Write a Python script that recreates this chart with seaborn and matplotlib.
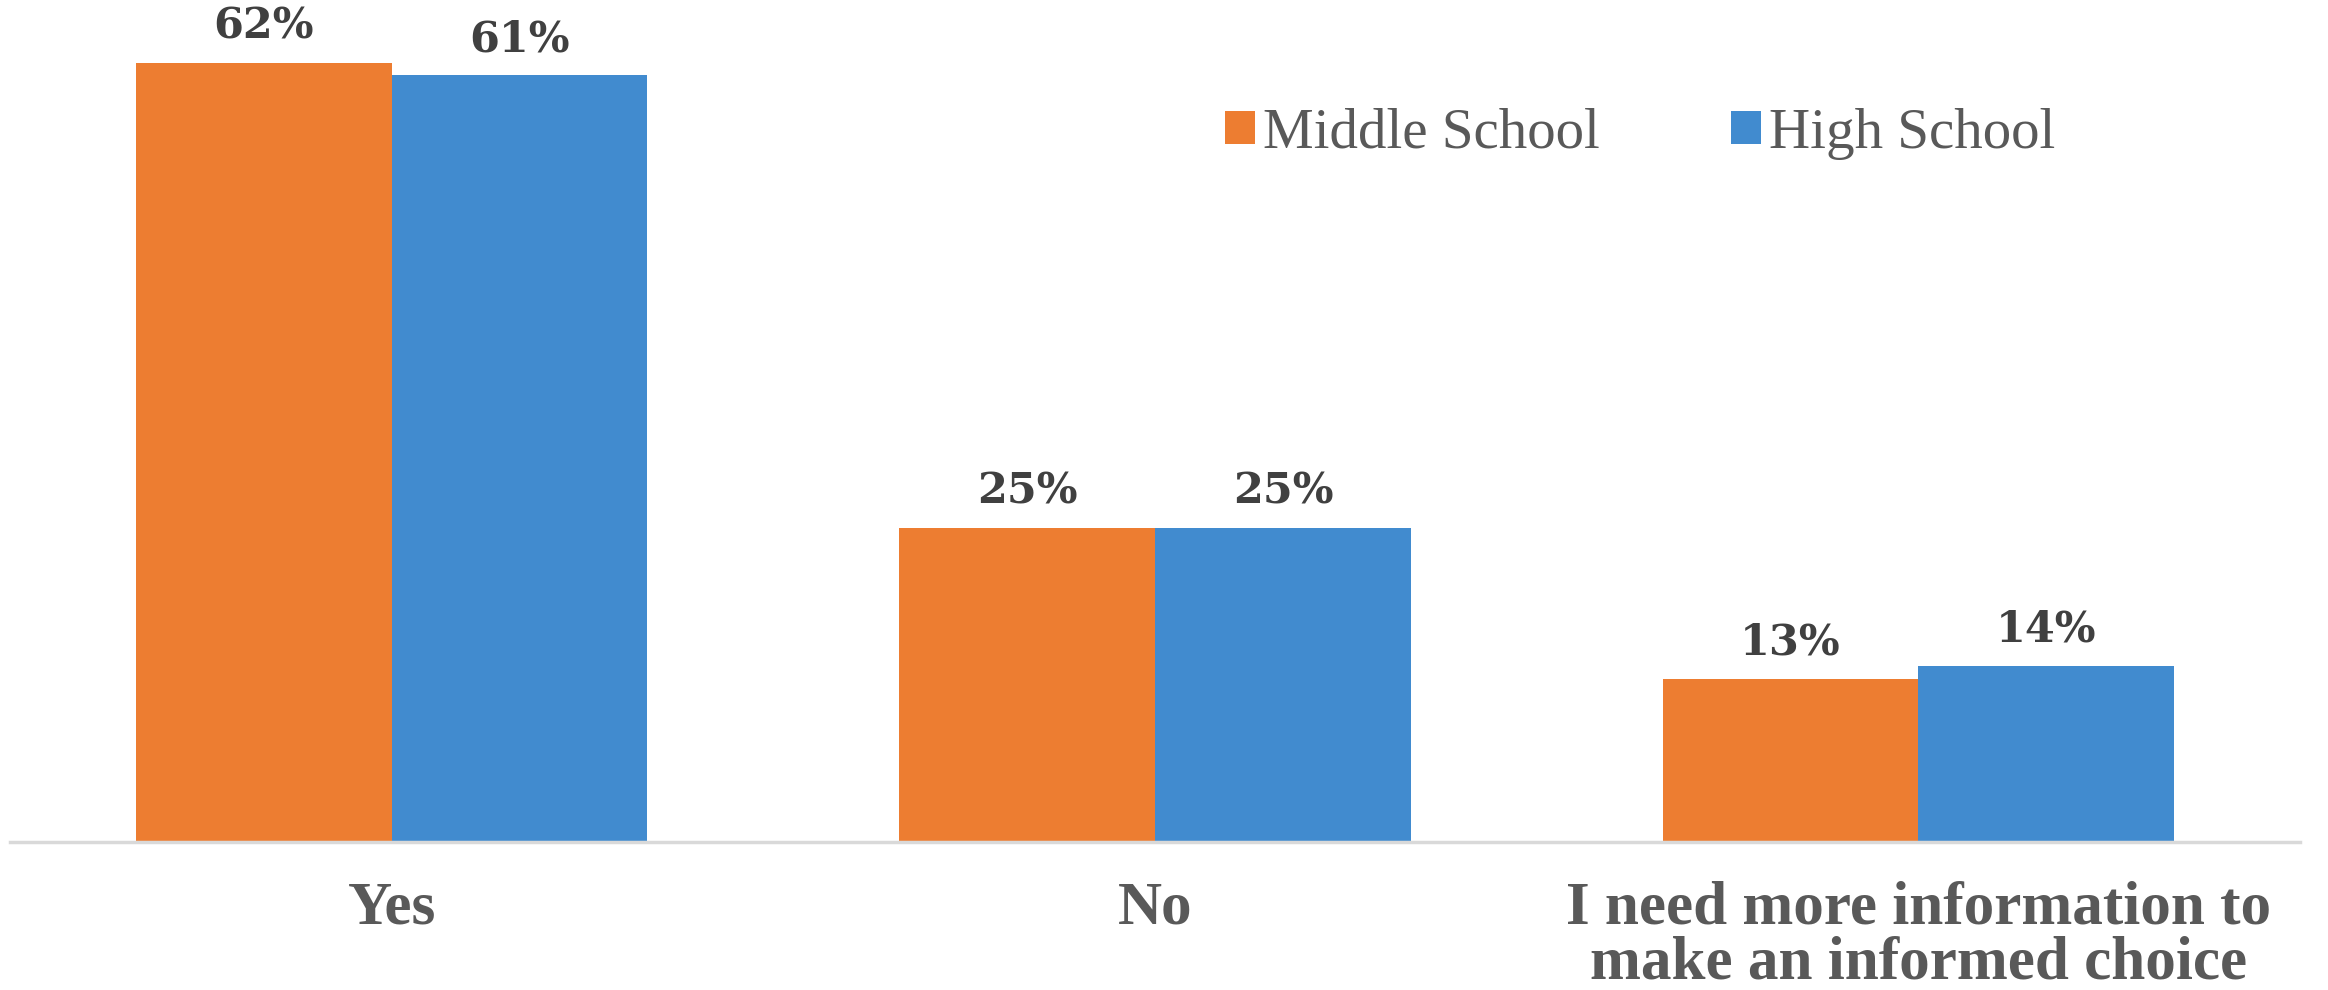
import matplotlib
matplotlib.use("Agg")
import matplotlib.pyplot as plt
import seaborn as sns
import pandas as pd

categories = ["Yes", "No", "I need more information to\nmake an informed choice"]
groups = ["Middle School", "High School"]
middle_school = [62, 25, 13]
high_school = [61, 25, 14]
colors = ["#ED7D31", "#418BCF"]

df = pd.DataFrame({
    "answer": categories * 2,
    "group": [groups[0]] * 3 + [groups[1]] * 3,
    "pct": middle_school + high_school,
})

sns.set_theme(style="white")
plt.rcParams["font.family"] = ["Liberation Serif", "DejaVu Serif"]

fig = plt.figure(figsize=(23.28, 9.9), dpi=100)
ax = fig.add_axes([0.0043, 0.1495, 0.9837, 0.8505])

sns.barplot(data=df, x="answer", y="pct", hue="group", order=categories,
            hue_order=groups, palette=colors, width=0.67, gap=0,
            saturation=1, edgecolor="none", linewidth=0, ax=ax)

ax.set_xlim(-0.5, 2.5)
ax.set_ylim(0, 67)

for container in ax.containers:
    labels = [f"{v:.0f}%" for v in container.datavalues]
    ax.bar_label(container, labels=labels, padding=11, fontsize=31,
                 fontweight="bold", color="#404040",
                 family=["DejaVu Serif"])

ax.set_xlabel("")
ax.set_ylabel("")
ax.set_yticks([])
ax.tick_params(axis="x", length=0, pad=28, labelsize=44, labelcolor="#595959")
for lbl in ax.get_xticklabels():
    lbl.set_fontweight("bold")
    lbl.set_linespacing(0.97)

for side in ["top", "right", "left"]:
    ax.spines[side].set_visible(False)
ax.spines["bottom"].set_color("#D9D9D9")
ax.spines["bottom"].set_linewidth(2.5)

handles, _ = ax.get_legend_handles_labels()
leg = ax.legend(handles, groups, ncol=2, frameon=False, fontsize=41,
                loc="center left", bbox_to_anchor=(0.514, 0.865),
                bbox_transform=fig.transFigure, borderpad=0,
                handlelength=0.52, handleheight=0.52, handletextpad=0.15,
                columnspacing=2.3)
for t in leg.get_texts():
    t.set_color("#595959")

fig.savefig("out.png", dpi=100, facecolor="white")
